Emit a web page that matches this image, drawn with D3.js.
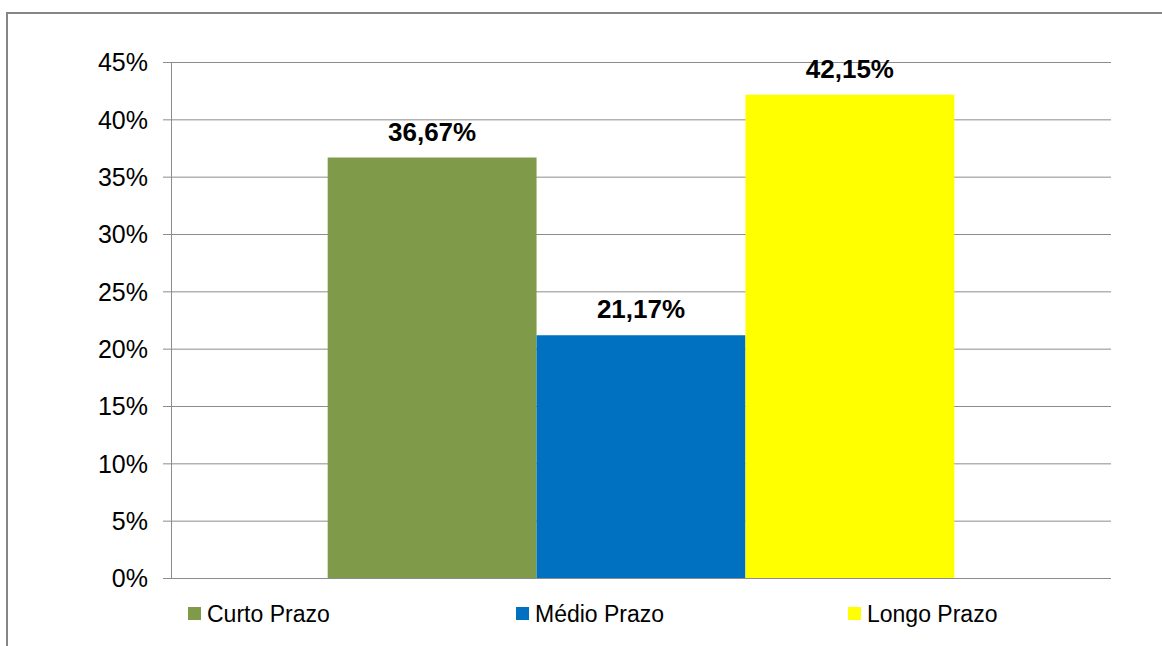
<!DOCTYPE html>
<html><head><meta charset="utf-8">
<script src="https://cdn.jsdelivr.net/npm/d3@7"></script>
<style>body{margin:0;background:#fff}svg{display:block}</style>
</head><body>
<script>
const categories = ["Curto Prazo", "Médio Prazo", "Longo Prazo"];
const values = [36.67, 21.17, 42.15];
const colors = ["#7f9b4a", "#0070c0", "#ffff00"];
const labels = ["36,67%", "21,17%", "42,15%"];
const yTicks = [0, 5, 10, 15, 20, 25, 30, 35, 40, 45];

(function () {
const W = 1162, H = 646;
const FONT = "Liberation Sans, Arial, sans-serif";
const svg = d3.select("body").append("svg").attr("width", W).attr("height", H);
svg.append("rect").attr("x", 0).attr("y", 0).attr("width", W).attr("height", H).attr("fill", "#fff");
// outer frame
svg.append("rect").attr("x", 7).attr("y", 13).attr("width", W + 20).attr("height", H + 20)
  .attr("fill", "none").attr("stroke", "#868686").attr("stroke-width", 2);

const pLeft = 171, pRight = 1111, pTop = 62, pBottom = 578;
const y = d3.scaleLinear().domain([0, 45]).range([pBottom, pTop]);
const outer = d3.scaleBand().domain(["g"]).range([pLeft, pRight]).paddingInner(0).paddingOuter(0);
const groupW = outer.bandwidth();
const barsW = groupW * 3 / 4.5;
const x = d3.scaleBand().domain(categories).range([pLeft + (groupW - barsW) / 2, pLeft + (groupW + barsW) / 2]);

// grid
const gAxis = svg.append("g").attr("transform", `translate(${pLeft},0)`)
  .call(d3.axisLeft(y).tickValues(yTicks).tickSize(-(pRight - pLeft)).tickFormat(d => d + "%"));
gAxis.select(".domain").remove();
gAxis.selectAll(".tick line").attr("stroke", "#8c8c8c").attr("stroke-width", 1).attr("x1", -8).attr("x2", pRight - pLeft);
gAxis.selectAll(".tick text").attr("font-family", FONT).attr("font-size", 25).attr("fill", "#000")
  .attr("x", -23).attr("dy", "0.35em");
svg.append("line").attr("x1", pLeft + 0.5).attr("x2", pLeft + 0.5).attr("y1", pTop).attr("y2", pBottom).attr("stroke", "#8c8c8c");

// bars
svg.selectAll("rect.bar").data(categories).enter().append("rect").attr("class", "bar")
  .attr("x", d => x(d)).attr("width", x.bandwidth())
  .attr("y", (d, i) => y(values[i])).attr("height", (d, i) => pBottom - y(values[i]))
  .attr("fill", (d, i) => colors[i]);
svg.append("line").attr("x1", pLeft - 8).attr("x2", pRight).attr("y1", pBottom + 0.5).attr("y2", pBottom + 0.5).attr("stroke", "#8c8c8c");

// data labels
svg.selectAll("text.lbl").data(categories).enter().append("text").attr("class", "lbl")
  .attr("x", d => x(d) + x.bandwidth() / 2).attr("y", (d, i) => y(values[i]) - 17)
  .attr("text-anchor", "middle").attr("font-family", FONT)
  .attr("font-weight", "bold").attr("font-size", 26).attr("fill", "#000")
  .text((d, i) => labels[i]);

// legend
const legX = [188, 516, 848];
const leg = svg.selectAll("g.leg").data(categories).enter().append("g").attr("class", "leg")
  .attr("transform", (d, i) => `translate(${legX[i]},607)`);
leg.append("rect").attr("width", 13).attr("height", 13).attr("fill", (d, i) => colors[i]);
leg.append("text").attr("x", 19).attr("y", 14.5).attr("font-family", FONT)
  .attr("font-size", 23).attr("fill", "#000").text(d => d);
})();
</script>
</body></html>
